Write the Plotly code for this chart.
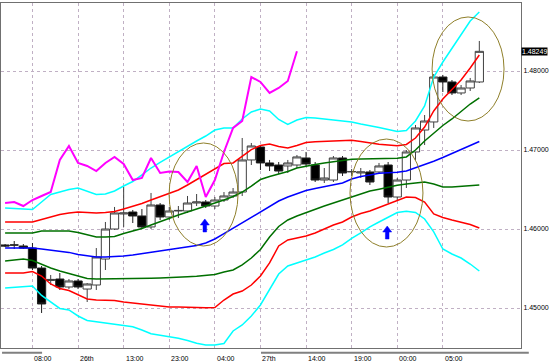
import plotly.graph_objects as go

# ---------------- data ----------------
bar_index = list(range(-3, 50))

opens = [1.45798, 1.45798, 1.45785, 1.45759, 1.45506, 1.45348, 1.45367, 1.45266, 1.45342, 1.45240,
         1.45291, 1.45620, 1.46000, 1.46190, 1.46215, 1.46165, 1.46026, 1.46304, 1.46152, 1.46228,
         1.46228, 1.46329, 1.46342, 1.46291, 1.46367, 1.46418, 1.46468, 1.46874, 1.47038, 1.46836,
         1.46810, 1.46798, 1.46810, 1.46899, 1.46810, 1.46620, 1.46620, 1.46899, 1.46722, 1.46709,
         1.46722, 1.46722, 1.46810, 1.46405, 1.46620, 1.46975, 1.47253, 1.47355, 1.47924, 1.47861,
         1.47722, 1.47785, 1.47861]
highs = [1.45810, 1.45848, 1.45810, 1.45823, 1.45532, 1.45418, 1.45443, 1.45367, 1.45367, 1.45316,
         1.45759, 1.46089, 1.46279, 1.46532, 1.46241, 1.46253, 1.46456, 1.46329, 1.46279, 1.46291,
         1.46418, 1.46443, 1.46367, 1.46405, 1.46468, 1.46519, 1.47152, 1.47089, 1.47063, 1.46874,
         1.46848, 1.46874, 1.46937, 1.46975, 1.46848, 1.46772, 1.46924, 1.46924, 1.46760, 1.46772,
         1.46747, 1.46836, 1.46848, 1.46646, 1.47000, 1.47317, 1.47443, 1.47962, 1.47950, 1.47886,
         1.47823, 1.47912, 1.48380]
lows = [1.45772, 1.45747, 1.45747, 1.45481, 1.44937, 1.45292, 1.45228, 1.45240, 1.45240, 1.45076,
        1.45228, 1.45481, 1.45988, 1.46026, 1.46076, 1.46000, 1.46000, 1.46114, 1.46114, 1.46139,
        1.46203, 1.46291, 1.46266, 1.46253, 1.46342, 1.46392, 1.46418, 1.46810, 1.46747, 1.46734,
        1.46696, 1.46709, 1.46772, 1.46798, 1.46595, 1.46582, 1.46595, 1.46671, 1.46671, 1.46646,
        1.46557, 1.46709, 1.46329, 1.46367, 1.46519, 1.46874, 1.47063, 1.47279, 1.47734, 1.47696,
        1.47696, 1.47747, 1.47848]
closes = [1.45785, 1.45797, 1.45759, 1.45506, 1.45051, 1.45362, 1.45266, 1.45342, 1.45266, 1.45304,
          1.45646, 1.46000, 1.46203, 1.46203, 1.46165, 1.46026, 1.46304, 1.46152, 1.46228, 1.46235,
          1.46329, 1.46342, 1.46291, 1.46367, 1.46418, 1.46468, 1.46874, 1.47051, 1.46836, 1.46798,
          1.46734, 1.46836, 1.46912, 1.46823, 1.46620, 1.46646, 1.46899, 1.46709, 1.46728, 1.46722,
          1.46595, 1.46798, 1.46405, 1.46620, 1.46975, 1.47279, 1.47367, 1.47924, 1.47861, 1.47722,
          1.47785, 1.47874, 1.48249]

ma_mid = [1.45760, 1.45760, 1.45760, 1.45760, 1.45747, 1.45734, 1.45722, 1.45704, 1.45677, 1.45658,
          1.45646, 1.45646, 1.45651, 1.45658, 1.45671, 1.45687, 1.45704, 1.45722, 1.45738, 1.45756,
          1.45772, 1.45791, 1.45823, 1.45874, 1.45941, 1.46010, 1.46079, 1.46146, 1.46216, 1.46287,
          1.46354, 1.46405, 1.46450, 1.46488, 1.46512, 1.46535, 1.46557, 1.46582, 1.46633, 1.46665,
          1.46684, 1.46705, 1.46713, 1.46718, 1.46734, 1.46773, 1.46810, 1.46858, 1.46905, 1.46956,
          1.47006, 1.47057, 1.47108]
green_up = [1.45950, 1.45950, 1.45950, 1.45950, 1.45975, 1.45975, 1.45975, 1.45975, 1.45956, 1.45924,
            1.45899, 1.45899, 1.45905, 1.45944, 1.45975, 1.46006, 1.46051, 1.46095, 1.46139, 1.46177,
            1.46216, 1.46253, 1.46291, 1.46329, 1.46367, 1.46412, 1.46468, 1.46544, 1.46626, 1.46665,
            1.46696, 1.46728, 1.46772, 1.46798, 1.46817, 1.46836, 1.46855, 1.46874, 1.46884, 1.46886,
            1.46886, 1.46886, 1.46890, 1.46895, 1.46912, 1.47000, 1.47114, 1.47211, 1.47310, 1.47393,
            1.47488, 1.47582, 1.47659]
green_dn = [1.45595, 1.45608, 1.45621, 1.45601, 1.45551, 1.45506, 1.45468, 1.45437, 1.45399, 1.45374,
            1.45367, 1.45367, 1.45367, 1.45367, 1.45371, 1.45374, 1.45376, 1.45380, 1.45383, 1.45389,
            1.45396, 1.45403, 1.45412, 1.45424, 1.45456, 1.45481, 1.45545, 1.45633, 1.45741, 1.45899,
            1.46032, 1.46114, 1.46165, 1.46209, 1.46247, 1.46291, 1.46329, 1.46367, 1.46412, 1.46450,
            1.46481, 1.46504, 1.46532, 1.46553, 1.46570, 1.46585, 1.46595, 1.46570, 1.46532, 1.46532,
            1.46538, 1.46551, 1.46557]
red_up = [1.46089, 1.46089, 1.46089, 1.46089, 1.46120, 1.46152, 1.46184, 1.46203, 1.46216, 1.46209,
          1.46203, 1.46209, 1.46222, 1.46253, 1.46285, 1.46322, 1.46367, 1.46412, 1.46450, 1.46494,
          1.46557, 1.46626, 1.46696, 1.46766, 1.46829, 1.46836, 1.46918, 1.47006, 1.47057, 1.47076,
          1.47045, 1.47026, 1.47057, 1.47095, 1.47104, 1.47109, 1.47114, 1.47120, 1.47124, 1.47108,
          1.47089, 1.47072, 1.47063, 1.47054, 1.47070, 1.47152, 1.47291, 1.47494, 1.47646, 1.47766,
          1.47886, 1.48038, 1.48203]
red_dn = [1.45443, 1.45443, 1.45443, 1.45462, 1.45405, 1.45304, 1.45247, 1.45222, 1.45171, 1.45114,
          1.45101, 1.45101, 1.45095, 1.45076, 1.45063, 1.45051, 1.45038, 1.45019, 1.45013, 1.45013,
          1.45006, 1.45005, 1.45003, 1.45006, 1.45101, 1.45177, 1.45215, 1.45291, 1.45405, 1.45570,
          1.45785, 1.45861, 1.45886, 1.45911, 1.45950, 1.46000, 1.46051, 1.46089, 1.46152, 1.46196,
          1.46228, 1.46272, 1.46316, 1.46361, 1.46405, 1.46399, 1.46342, 1.46190, 1.46146, 1.46114,
          1.46089, 1.46057, 1.46013]
cyan_up = [1.46266, 1.46260, 1.46253, 1.46247, 1.46342, 1.46437, 1.46468, 1.46500, 1.46519, 1.46481,
           1.46437, 1.46443, 1.46481, 1.46544, 1.46601, 1.46684, 1.46772, 1.46842, 1.46912, 1.46975,
           1.47045, 1.47114, 1.47177, 1.47253, 1.47279, 1.47279, 1.47393, 1.47481, 1.47519, 1.47494,
           1.47386, 1.47323, 1.47380, 1.47412, 1.47405, 1.47393, 1.47386, 1.47376, 1.47355, 1.47329,
           1.47310, 1.47285, 1.47260, 1.47234, 1.47247, 1.47367, 1.47557, 1.47924, 1.48114, 1.48285,
           1.48469, 1.48633, 1.48747]
cyan_dn = [1.45253, 1.45260, 1.45266, 1.45279, 1.45159, 1.45076, 1.44994, 1.44975, 1.44899, 1.44842,
           1.44826, 1.44817, 1.44798, 1.44779, 1.44762, 1.44722, 1.44674, 1.44655, 1.44636, 1.44618,
           1.44588, 1.44553, 1.44532, 1.44532, 1.44551, 1.44709, 1.44785, 1.44899, 1.45038, 1.45228,
           1.45430, 1.45532, 1.45570, 1.45608, 1.45646, 1.45696, 1.45741, 1.45798, 1.45880, 1.45950,
           1.46026, 1.46089, 1.46152, 1.46209, 1.46225, 1.46209, 1.46127, 1.45963, 1.45747, 1.45684,
           1.45633, 1.45557, 1.45468]

lag_shift = 20  # lagging line = close shifted back 20 bars

x_tick_index = [0, 5, 10, 15, 20, 25, 30, 35, 40, 45]
x_tick_text = ["08:00", "26th", "13:00", "23:00", "04:00", "27th", "14:00", "19:00", "00:00", "05:00"]
y_tick_vals = [1.45, 1.46, 1.47, 1.48]
y_tick_text = ["1.45000", "1.46000", "1.47000", "1.48000"]
last_price_text = "1.48249"

# ---------------- figure ----------------
FONT = "Liberation Sans"
fig = go.Figure()

fig.add_trace(go.Candlestick(
    x=bar_index, open=opens, high=highs, low=lows, close=closes,
    increasing=dict(fillcolor="white", line=dict(color="#404040", width=1)),
    decreasing=dict(fillcolor="black", line=dict(color="#202020", width=1)),
    whiskerwidth=0, showlegend=False, hoverinfo="skip"))

band_styles = [
    (cyan_up, "#00ffff", 1.5), (cyan_dn, "#00ffff", 1.5),
    (red_up, "#ff0000", 1.5), (red_dn, "#ff0000", 1.5),
    (green_up, "#007000", 1.5), (green_dn, "#007000", 1.5),
    (ma_mid, "#0000ff", 1.5),
]
for ys, col, w in band_styles:
    fig.add_trace(go.Scatter(x=bar_index, y=ys, mode="lines",
                             line=dict(color=col, width=w), showlegend=False, hoverinfo="skip"))

fig.add_trace(go.Scatter(x=bar_index[:len(closes) - lag_shift], y=closes[lag_shift:], mode="lines",
                         line=dict(color="#ff00ff", width=2), showlegend=False, hoverinfo="skip"))

ellipse_color = "#8f7f2a"
ellipses = [(14.98, 22.54, 1.47089, 1.45785), (34.82, 42.82, 1.47139, 1.45772),
            (43.82, 51.71, 1.48684, 1.47367)]
shapes = []
for x0, x1, y0, y1 in ellipses:
    shapes.append(dict(type="circle", xref="x", yref="y", x0=x0, x1=x1, y0=y0, y1=y1,
                       line=dict(color=ellipse_color, width=1)))

# blue up-arrows (signal marks): (bar position, tip price)
arrow_marks = [(18.9, 1.46127), (38.9, 1.46038)]
px_x = 1 / 9.12          # one pixel in bar units
px_y = 1 / 7900          # one pixel in price units
for xa, ya in arrow_marks:
    path = (f"M{xa},{ya} L{xa + 4.5 * px_x},{ya - 6 * px_y} L{xa + 1.8 * px_x},{ya - 6 * px_y} "
            f"L{xa + 1.8 * px_x},{ya - 13 * px_y} L{xa - 1.8 * px_x},{ya - 13 * px_y} "
            f"L{xa - 1.8 * px_x},{ya - 6 * px_y} L{xa - 4.5 * px_x},{ya - 6 * px_y} Z")
    shapes.append(dict(type="path", xref="x", yref="y", path=path,
                       fillcolor="#0000ff", line=dict(color="#0000ff", width=0.5)))

# scrollbar-like grey bars under the axis
shapes.append(dict(type="line", xref="paper", yref="paper", x0=0.002, x1=0.079, y0=-0.014, y1=-0.014,
                   line=dict(color="#808080", width=2)))
shapes.append(dict(type="line", xref="paper", yref="paper", x0=0.5, x1=1.015, y0=-0.014, y1=-0.014,
                   line=dict(color="#808080", width=2)))
# small magenta marker next to the price label
shapes.append(dict(type="line", xref="paper", yref="y", x0=1.046, x1=1.046, y0=1.48222, y1=1.48278,
                   line=dict(color="#ff00ff", width=1.5)))

annotations = []
# time labels, left-aligned at their grid lines
for tv, tt in zip(x_tick_index, x_tick_text):
    annotations.append(dict(x=tv, y=-0.03, xref="x", yref="paper", xanchor="left", yanchor="middle",
                            text=tt, showarrow=False, font=dict(size=7, family=FONT, color="black")))
annotations.append(dict(x=1.0, y=closes[-1], xref="paper", yref="y", xanchor="left", yanchor="middle",
                        text=last_price_text, showarrow=False, bgcolor="black",
                        font=dict(color="white", size=7, family=FONT), borderpad=0, xshift=0))

fig.update_layout(
    width=550, height=363,
    margin=dict(l=1, r=29, t=3, b=15),
    paper_bgcolor="white", plot_bgcolor="white",
    showlegend=False, boxgap=0.05, boxgroupgap=0.05,
    shapes=shapes, annotations=annotations,
    xaxis=dict(range=[-3.45, 53.57], tickvals=x_tick_index, ticktext=[""] * len(x_tick_index),
               showgrid=True, gridcolor="#c0b0c4", griddash="dot", gridwidth=1,
               zeroline=False, showline=True, linecolor="#707070", linewidth=1, mirror=True,
               ticks="", ticklen=0, rangeslider=dict(visible=False)),
    yaxis=dict(range=[1.444937, 1.488608], side="right", tickvals=y_tick_vals, ticktext=y_tick_text,
               showgrid=True, gridcolor="#c0b0c4", griddash="dot", gridwidth=1,
               zeroline=False, showline=True, linecolor="#707070", linewidth=1, mirror=True,
               ticks="", ticklen=0, ticklabelstandoff=0,
               tickfont=dict(size=7, family=FONT, color="black")),
)

fig.write_html("out.html", config={"displayModeBar": False},
               post_script="document.body.style.margin='0';")
